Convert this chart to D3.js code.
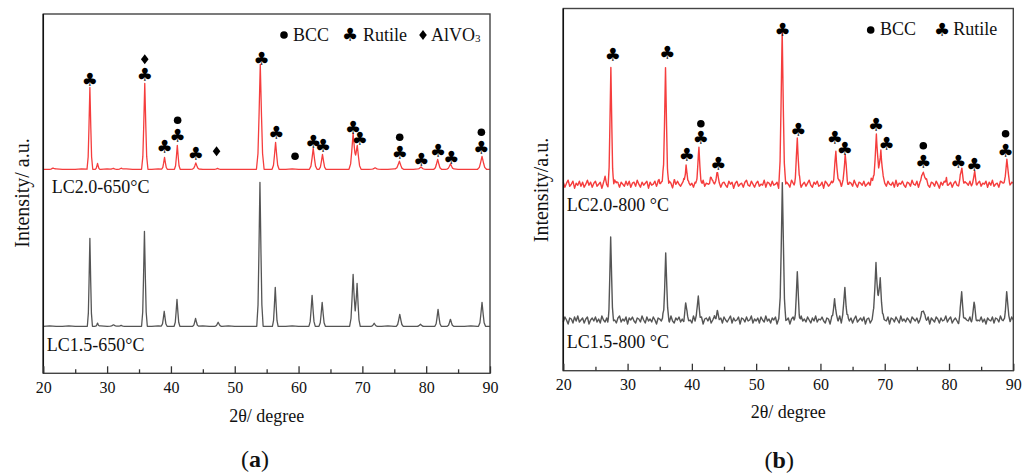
<!DOCTYPE html>
<html><head><meta charset="utf-8">
<script src="https://cdn.jsdelivr.net/npm/d3@7"></script>
<style>
body{margin:0;background:#fff;}
svg text{font-family:"Liberation Serif","Times New Roman",serif;fill:#111;}
</style></head><body>
<svg id="c" width="1030" height="475"></svg>
<script>
// ---------- data (2θ in degrees, intensity in a.u.) ----------
const xTicks = [20,30,40,50,60,70,80,90];
const xMinorTicks = [25,35,45,55,65,75,85];

// panel (a) baselines, sampled every 1° from 20° to 90°
const redBaseA = [0,0,0.5,0,0,0,0.5,0,0,0, 0.5,0,0,0.5,0,0,0,0,0.5,0, 0,0,0,0,0.5,0,0,0,0,0, 0,0,0,0,0,0,0,0,0,0.5, 0,0,0,0,0,0,0,0,0,0, 0,0,0.5,0,0,0.5,0,0,0,0.5, 0,0,0,0,0.5,0,0,0,0,0, 0];
const grayBaseA = [0,0.5,0,0,0.5,0,0,0,0,0.5, 0,0.5,0,0,0,0,0,0,0.5,0, 0,0,0,0,0,0.5,0,0,0,0.5, 0,0,0,0,0,0,0,0,0,0.5, 0,0,0,0,0,0,0,0,0,0, 0,0,0,0,0.5,0,0,0,0,0, 0,0,0,0,0,0,0,0.5,0,0, 0];
// panel (a) peaks: [2θ, height, half base width]
const redPeaksA = [[21.5,1,0.5],[27.3,82,0.45],[28.5,6,0.35],[31.0,1,0.5],[32.2,1,0.5],[35.9,86,0.5],[39.0,12,0.45],[41.0,24,0.45],[43.9,6,0.5],[47.3,1,0.5],[54.0,105,0.6],[56.4,27,0.55],[62.3,21,0.6],[63.75,15,0.55],[68.55,36,0.65],[69.2,24,0.6],[72.0,1,0.5],[75.8,8,0.65],[79.2,2,0.5],[81.8,10,0.6],[83.8,5,0.55],[88.75,13,0.7]];
const grayPeaksA = [[27.3,88,0.4],[28.5,3,0.3],[31.0,1,0.5],[32.2,1,0.5],[35.85,95,0.45],[38.95,15,0.45],[40.95,27,0.45],[43.86,8,0.45],[47.4,4,0.5],[53.95,144,0.5],[56.35,39,0.45],[62.12,31,0.5],[63.7,24,0.5],[68.55,52,0.55],[69.17,43,0.5],[71.85,3,0.5],[75.86,12,0.55],[79.1,2,0.5],[81.86,17,0.5],[83.8,7,0.5],[88.75,24,0.55]];
const redOffsetA = 204, grayOffsetA = 47;

// panel (b) baselines (noisy), sampled every 0.25° from 20° to 90°
const redBaseB = [2,-3,1,4,-2,0,3,-4,1,-1,3,-2,2,-3,0,4,-1,2,-3,1,
 3,-2,0,2,-4,1,3,-1,-3,2,0,-2,4,-1,1,-3,2,0,-2,3,
 -1,3,-3,1,2,-2,4,0,-3,2,-1,1,3,-4,2,-1,0,3,-2,1,
 -3,2,4,-1,0,-2,3,1,-4,2,-1,3,0,-2,1,4,-3,0,2,-1,
 1,-3,2,0,3,-2,-1,4,-2,1,0,-3,2,3,-1,-2,4,0,-3,1,
 2,-1,-3,3,0,2,-4,1,3,-2,0,1,-3,2,4,-1,-2,3,0,-3,
 1,3,-2,0,-1,4,-3,2,1,-2,3,-1,0,2,-4,1,3,-2,-1,2,
 0,-3,4,1,-2,2,-1,3,-3,0,2,-2,1,4,-1,-3,2,0,3,-2,
 -1,2,-4,3,1,-2,0,3,-1,2,-3,1,4,-2,0,-1,3,-3,2,1,
 -2,4,0,-3,2,1,-1,3,-2,0,2,-4,1,3,-1,-2,2,0,-3,3,
 1,-2,3,0,-1,2,-3,4,-2,1,0,3,-1,-3,2,1,-2,4,0,-1,
 3,-3,1,2,-2,0,4,-1,-3,2,1,-2,3,0,-4,2,-1,3,1,-2,
 0,2,-3,1,3,-1,-2,4,0,-3,2,1,-1,3,-2,0,2,-4,1,3,
 -2,1,0,3,-3,2,-1,4,-2,0,1,-3,3,2,-1,-2,4,0,-3,2,
 1];
const grayBaseB = [-2,3,0,-4,2,1,-3,3,-1,4,-2,0,2,-3,1,3,-4,0,2,-1,
 3,-2,1,-3,4,0,-2,2,-4,1,3,-1,0,-3,2,4,-2,1,-1,3,
 -4,2,0,3,-1,-3,2,1,-2,4,0,-3,3,-1,1,-2,3,0,-4,2,
 1,-1,3,-3,0,2,-2,4,-1,-3,2,0,3,-2,1,-4,2,3,-1,0,
 -3,4,-1,2,0,-2,3,-4,1,2,-1,3,-3,0,4,-2,1,-1,2,-3,
 3,0,-2,1,4,-3,2,-1,0,3,-4,2,1,-2,3,-1,0,4,-3,1,
 -1,2,-3,3,0,-2,4,-1,1,-3,2,0,3,-4,1,2,-2,3,-1,0,
 2,-4,1,3,-2,0,2,-3,4,-1,1,-2,3,0,-3,2,-1,4,-2,1,
 0,3,-1,-3,2,1,-4,3,0,-2,2,-1,4,-3,1,0,-2,3,-1,2,
 -3,1,4,-2,0,2,-1,3,-4,1,2,-3,0,3,-1,-2,4,1,-3,2,
 0,-1,3,-4,2,1,-2,3,0,-3,4,-1,1,-2,2,0,-3,3,1,-1,
 2,-3,0,4,-2,1,-1,3,-4,2,0,-2,3,1,-3,2,-1,0,4,-2,
 1,3,-3,0,2,-1,-4,3,1,-2,2,0,-1,3,-3,1,4,-2,0,-1,
 3,-2,1,-4,2,0,-1,3,-3,2,1,-2,4,0,-1,-3,2,1,-2,3,
 0];
const redPeaksB = [[26.5,5,0.4],[27.4,116,0.45],[28.3,3,0.4],[34.9,6,0.4],[35.9,117,0.5],[37.3,3,0.4],[39.1,21,0.45],[41.1,36,0.5],[42.9,7,0.5],[43.9,10,0.6],[54.05,151,0.55],[56.4,46,0.5],[62.4,34,0.55],[63.85,29,0.55],[67.9,7,0.4],[68.7,52,0.6],[69.4,36,0.6],[76.0,14,0.7],[79.6,7,0.25],[82.0,16,0.55],[84.0,11,0.55],[89.0,21,0.7]];
const grayPeaksB = [[27.37,81,0.45],[35.93,68,0.5],[39.04,15,0.5],[41.0,24,0.5],[43.96,9,0.5],[54.07,138,0.55],[56.4,47,0.5],[62.2,23,0.5],[63.8,33,0.55],[68.64,59,0.6],[69.3,42,0.6],[76.0,11,0.6],[81.97,27,0.5],[83.9,15,0.5],[88.97,27,0.55]];
const redOffsetB = 186.5, grayOffsetB = 50.7;

// phase markers: [2θ, intensity level]
const clubsA = [[27.3,294],[35.9,299],[39.0,227],[41.05,238],[43.9,220],[54.2,315],[56.5,241],[62.3,232],[63.85,228],[68.55,246],[69.6,235],[75.85,221],[79.25,214],[81.85,223],[83.95,216],[88.65,226]];
const bccA = [[41.05,253],[59.45,217],[75.85,236],[88.65,241]];
const alvoA = [[35.9,314],[47.15,222]];
const clubsB = [[27.7,316],[36.2,318],[39.2,216],[41.4,233],[44.1,207],[54.1,341],[56.55,241],[62.25,233],[63.8,222],[68.65,246],[70.3,227],[76.0,209],[81.45,209],[83.95,206],[88.8,220]];
const bccB = [[41.4,247],[76.0,225],[88.8,237]];

// ---------- drawing ----------
const svg = d3.select("#c");
const RED = "#f53d3d", GRAY = "#555";
const CLUB_SIZE = 18;
const DIAMOND = "M0,-5L3.8,0L0,5L-3.8,0Z";

function profile(d){
  const t=[0,0.33,0.6,1], v=[1,0.5,0.15,0];
  if(d>=1) return 0;
  for(let i=0;i<3;i++){ if(d<=t[i+1]) return v[i]+(v[i+1]-v[i])*(d-t[i])/(t[i+1]-t[i]); }
  return 0;
}
function buildTrace(step, base, peaks, offset){
  const xs = new Set();
  base.forEach((_,i)=>xs.add(+(20+i*step).toFixed(4)));
  peaks.forEach(([p,h,w])=>[-1,-0.6,-0.33,0,0.33,0.6,1].forEach(k=>{const x=p+k*w; if(x>=20&&x<=90) xs.add(+x.toFixed(4));}));
  const arr=[...xs].sort((a,b)=>a-b);
  return arr.map(x=>{
    const fi=(x-20)/step; let i0=Math.min(Math.floor(fi), base.length-2); const f=fi-i0;
    let y=offset+base[i0]*(1-f)+base[i0+1]*f;
    peaks.forEach(([p,h,w])=>{y+=h*profile(Math.abs(x-p)/w);});
    return [x,y];
  });
}

function panel(cfg){
  const x = d3.scaleLinear().domain([20,90]).range([cfg.x0,cfg.x1]);
  const y = d3.scaleLinear().domain([0,cfg.yTop]).range([cfg.y1,cfg.y0]);
  const g = svg.append("g");
  const line = d3.line().x(d=>x(d[0])).y(d=>y(d[1]));
  cfg.traces.forEach(t=>{
    g.append("path").datum(buildTrace(t.step,t.base,t.peaks,t.offset))
      .attr("d",line).attr("fill","none").attr("stroke",t.color).attr("stroke-width",cfg.sw).attr("stroke-linejoin","round");
  });
  // frame
  g.append("rect").attr("x",cfg.x0).attr("y",cfg.y0).attr("width",cfg.x1-cfg.x0).attr("height",cfg.y1-cfg.y0)
    .attr("fill","none").attr("stroke","#444").attr("stroke-width",1.4);
  g.append("line").attr("x1",cfg.x0).attr("x2",cfg.x0).attr("y1",cfg.y0).attr("y2",cfg.y1).attr("stroke","#111").attr("stroke-width",1.5);
  // axes
  const ax = g.append("g").attr("transform",`translate(0,${cfg.y1})`)
    .call(d3.axisBottom(x).tickValues(xTicks).tickSize(-7).tickSizeOuter(0).tickPadding(8).tickFormat(d3.format("d")));
  ax.select(".domain").remove();
  ax.selectAll("line").attr("stroke","#333").attr("stroke-width",1.3);
  ax.selectAll("text").attr("font-size",16).attr("font-family","Liberation Serif, Times New Roman, serif").attr("fill","#111");
  const axm = g.append("g").attr("transform",`translate(0,${cfg.y1})`)
    .call(d3.axisBottom(x).tickValues(xMinorTicks).tickSize(-4).tickSizeOuter(0).tickFormat(""));
  axm.select(".domain").remove();
  axm.selectAll("line").attr("stroke","#333").attr("stroke-width",1.3);
  // markers
  g.selectAll(".club").data(cfg.clubs).join("text").attr("class","club")
    .attr("x",d=>x(d[0])).attr("y",d=>y(d[1])).attr("dy","0.36em").attr("text-anchor","middle")
    .style("font-family","DejaVu Sans").attr("font-size",CLUB_SIZE).style("fill","#000").text("\u2663");
  g.selectAll(".bcc").data(cfg.bcc).join("circle").attr("class","bcc")
    .attr("cx",d=>x(d[0])).attr("cy",d=>y(d[1])).attr("r",3.8).attr("fill","#000");
  g.selectAll(".alvo").data(cfg.alvo||[]).join("path").attr("class","alvo")
    .attr("transform",d=>`translate(${x(d[0])},${y(d[1])})`).attr("d",DIAMOND).attr("fill","#000");
  return g;
}

panel({x0:43.3,x1:490,y0:14,y1:373.3,yTop:359.3,sw:1.3,
  traces:[{step:1,base:grayBaseA,peaks:grayPeaksA,offset:grayOffsetA,color:GRAY},
          {step:1,base:redBaseA,peaks:redPeaksA,offset:redOffsetA,color:RED}],
  clubs:clubsA,bcc:bccA,alvo:alvoA});
panel({x0:563.3,x1:1013.3,y0:8.5,y1:370.7,yTop:362.2,sw:1.4,
  traces:[{step:0.25,base:grayBaseB,peaks:grayPeaksB,offset:grayOffsetB,color:GRAY},
          {step:0.25,base:redBaseB,peaks:redPeaksB,offset:redOffsetB,color:RED}],
  clubs:clubsB,bcc:bccB});

// texts
function txt(x,y,s,size,anchor){ return svg.append("text").attr("x",x).attr("y",y).attr("font-size",size).attr("text-anchor",anchor||"start").text(s); }
txt(51.7,192.7,"LC2.0-650°C",18);
txt(46.7,350.7,"LC1.5-650°C",18);
txt(566.7,210.7,"LC2.0-800 °C",18);
txt(566.7,348.3,"LC1.5-800 °C",18);
txt(266.7,421.7,"2θ/ degree",18,"middle");
txt(788.3,418.3,"2θ/ degree",18,"middle");
svg.append("text").attr("transform","translate(28.5,193) rotate(-90)").attr("text-anchor","middle").attr("font-size",20).text("Intensity/ a.u.");
svg.append("text").attr("transform","translate(548,190) rotate(-90)").attr("text-anchor","middle").attr("font-size",20).text("Intensity/a.u.");
function cap(x,y,l){
  const t = svg.append("text").attr("x",x).attr("y",y).attr("font-size",24).attr("text-anchor","middle");
  t.append("tspan").text("(");
  t.append("tspan").attr("font-weight","bold").text(l);
  t.append("tspan").text(")");
}
cap(255,466.7,"a"); cap(779.3,468,"b");

// legends
svg.append("circle").attr("cx",284).attr("cy",35).attr("r",3.8).attr("fill","#000");
txt(293,40.7,"BCC",18);
svg.append("text").attr("x",350).attr("y",35).attr("dy","0.36em").attr("text-anchor","middle").style("font-family","DejaVu Sans").attr("font-size",CLUB_SIZE).style("fill","#000").text("\u2663");
txt(363,40.7,"Rutile",18);
svg.append("path").attr("transform","translate(423,35)").attr("d",DIAMOND).attr("fill","#000");
const al = txt(431,40.7,"AlVO",18); al.append("tspan").attr("font-size",11).attr("dy",1).text("3");

svg.append("circle").attr("cx",870.7).attr("cy",30).attr("r",3.8).attr("fill","#000");
txt(880,35,"BCC",18);
svg.append("text").attr("x",942).attr("y",30).attr("dy","0.36em").attr("text-anchor","middle").style("font-family","DejaVu Sans").attr("font-size",CLUB_SIZE).style("fill","#000").text("\u2663");
txt(953.3,35,"Rutile",18);
</script>
</body></html>
